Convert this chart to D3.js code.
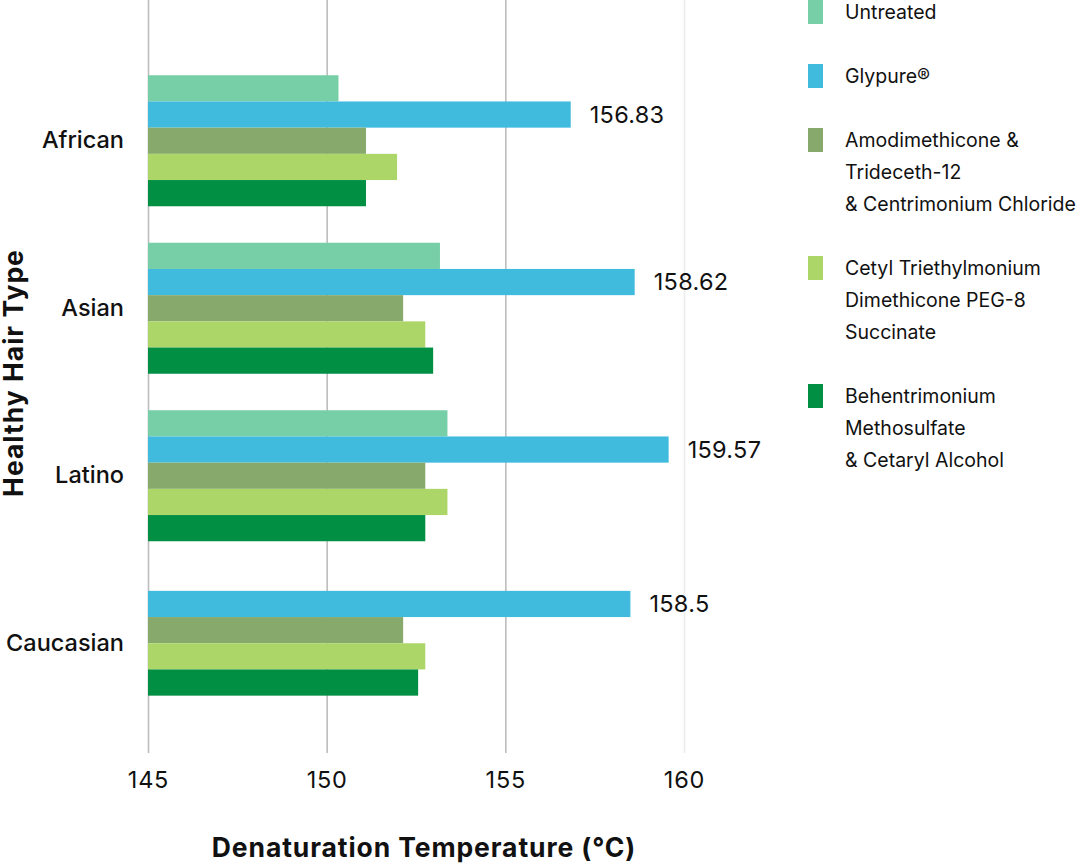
<!DOCTYPE html>
<html>
<head>
<meta charset="utf-8">
<script src="https://cdn.jsdelivr.net/npm/d3@7"></script>
<style>
  html, body { margin: 0; padding: 0; background: #fff; }
  svg { display: block; font-family: Inter, "Noto Sans", sans-serif; }
</style>
</head>
<body>
<svg id="chart" width="1078" height="865"></svg>
<script>
// ---- data ----
const categories = ["African", "Asian", "Latino", "Caucasian"];
const seriesNames = [
  "Untreated",
  "Glypure®",
  "Amodimethicone & Trideceth-12 & Centrimonium Chloride",
  "Cetyl Triethylmonium Dimethicone PEG-8 Succinate",
  "Behentrimonium Methosulfate & Cetaryl Alcohol"
];
const legendLines = [
  ["Untreated"],
  ["Glypure®"],
  ["Amodimethicone &", "Trideceth-12", "& Centrimonium Chloride"],
  ["Cetyl Triethylmonium", "Dimethicone PEG-8", "Succinate"],
  ["Behentrimonium", "Methosulfate", "& Cetaryl Alcohol"]
];
const seriesColors = ["#76cfa6", "#40bbdd", "#87a96b", "#acd667", "#008f43"];
const untreated      = [150.33, 153.17, 153.38, null];
const glypure        = [156.83, 158.62, 159.57, 158.5];
const amodimethicone = [151.1, 152.14, 152.76, 152.14];
const cetyl          = [151.97, 152.76, 153.38, 152.76];
const behentrimonium = [151.1, 152.98, 152.76, 152.56];
const seriesValues = [untreated, glypure, amodimethicone, cetyl, behentrimonium];
const labelledSeries = 1; // Glypure values are labelled
const xTicks = [145, 150, 155, 160];
const xTitle = "Denaturation Temperature (°C)";
const yTitle = "Healthy Hair Type";

// ---- layout ----
const svg = d3.select("#chart");
const plotTop = 0, plotBottom = 753;
const x = d3.scaleLinear().domain([145, 160]).range([148, 684]);
const y = d3.scaleBand().domain(categories).range([57, 727]).padding(0);
const barH = 26.2;

// gridlines + tick labels
const xAxis = d3.axisBottom(x).tickValues(xTicks).tickSize(-(plotBottom - plotTop)).tickPadding(18).tickFormat(d3.format("d"));
const gx = svg.append("g").attr("transform", `translate(0,${plotBottom})`).call(xAxis);
gx.select(".domain").remove();
gx.selectAll(".tick line")
  .attr("stroke", (d, i) => i === xTicks.length - 1 ? "#ececec" : "#bdbdbd")
  .attr("stroke-width", 1.6);
gx.selectAll(".tick text")
  .attr("fill", "#111").attr("font-size", 23.5).attr("letter-spacing", 0.8)
  .attr("font-family", "Inter, sans-serif");

// bars
const groups = svg.append("g").selectAll("g").data(categories).join("g");
groups.each(function(cat, ci) {
  const present = seriesValues.map((s, si) => ({ si, v: s[ci] })).filter(d => d.v != null);
  const center = y(cat) + y.bandwidth() / 2;
  const start = center - present.length * barH / 2;
  const g = d3.select(this);
  g.selectAll("rect").data(present).join("rect")
    .attr("x", x(145))
    .attr("y", (d, k) => start + k * barH)
    .attr("width", d => x(d.v) - x(145))
    .attr("height", barH)
    .attr("fill", d => seriesColors[d.si]);
  g.selectAll("text.val").data(present.filter(d => d.si === labelledSeries)).join("text")
    .attr("class", "val")
    .attr("x", d => x(d.v) + 19)
    .attr("y", d => start + present.indexOf(d) * barH + barH / 2)
    .attr("dy", "0.35em")
    .attr("font-size", 23.5)
    .attr("letter-spacing", 0.3)
    .attr("fill", "#111")
    .text(d => d.v);
});

// category axis
const yAxis = d3.axisLeft(y).tickSize(0).tickPadding(24);
const gy = svg.append("g").attr("transform", `translate(${x(145)},0)`).call(yAxis);
gy.select(".domain").remove();
gy.selectAll(".tick text")
  .attr("fill", "#111").attr("font-size", 23.5).attr("font-weight", 500).attr("font-family", "Inter, sans-serif");

// axis titles
svg.append("text")
  .attr("x", 424).attr("y", 848).attr("dy", "0.35em")
  .attr("text-anchor", "middle").attr("font-size", 26.5).attr("letter-spacing", 0.9)
  .attr("font-weight", 700).attr("fill", "#111")
  .text(xTitle);
svg.append("text")
  .attr("transform", "translate(14,373) rotate(-90)")
  .attr("dy", "0.35em")
  .attr("text-anchor", "middle").attr("font-size", 26.5).attr("letter-spacing", 1)
  .attr("font-weight", 700).attr("fill", "#111")
  .text(yTitle);

// legend
const legend = svg.append("g");
let legendTop = 0;
legendLines.forEach((lines, i) => {
  const item = legend.append("g").attr("transform", `translate(808,${legendTop})`);
  item.append("rect").attr("width", 15).attr("height", 24).attr("fill", seriesColors[i]);
  item.selectAll("text").data(lines).join("text")
    .attr("x", 37).attr("y", (d, k) => 12 + k * 32).attr("dy", "0.35em")
    .attr("font-size", 19.5).attr("fill", "#111")
    .text(d => d);
  legendTop += lines.length * 32 + 32;
});
</script>
</body>
</html>
